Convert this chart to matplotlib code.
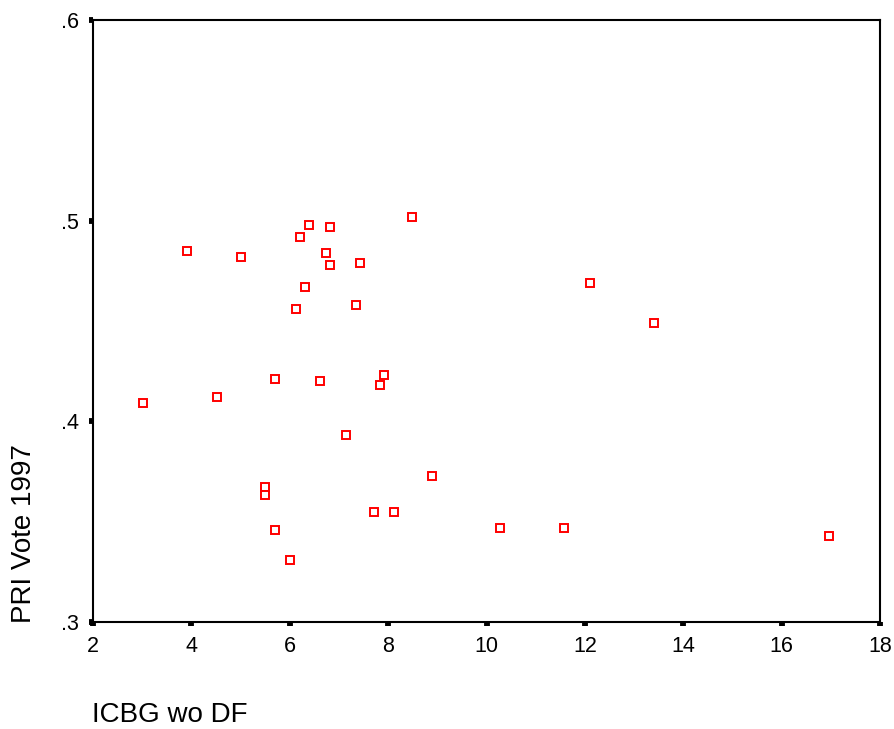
import numpy as np
import matplotlib
matplotlib.use("Agg")
import matplotlib.pyplot as plt
from matplotlib.ticker import FixedLocator, FixedFormatter

# ===== data =====
icbg = [8.48, 6.40, 6.81, 6.20, 3.91, 5.01, 6.73, 6.81, 7.42, 6.32,
        6.12, 7.34, 5.71, 6.61, 7.91, 7.83, 3.01, 4.52, 7.14, 8.89,
        5.50, 5.50, 7.71, 8.12, 5.71, 10.28, 6.00, 12.10, 13.40, 11.57,
        16.97]
pri_vote = [.502, .498, .497, .492, .485, .482, .484, .478, .479, .467,
            .456, .458, .421, .420, .423, .418, .409, .412, .393, .373,
            .3675, .3635, .355, .355, .346, .347, .331, .469, .449, .347,
            .343]

x_ticks = [2, 4, 6, 8, 10, 12, 14, 16, 18]
y_ticks = [.3, .4, .5, .6]
y_tick_labels = ['.3', '.4', '.5', '.6']

plt.rcParams['font.family'] = ['Liberation Sans', 'DejaVu Sans']

fig = plt.figure(figsize=(8.95, 7.29), dpi=100)
ax = fig.add_axes([93 / 895, 1 - 622 / 729, (880 - 93) / 895, (622 - 20) / 729])

ax.plot(icbg, pri_vote, linestyle='none', marker='s', markersize=6,
        markerfacecolor='white', markeredgecolor='#ff0000', markeredgewidth=1.4)

ax.set_xlim(2, 18)
ax.set_ylim(.3, .6)
ax.xaxis.set_major_locator(FixedLocator(x_ticks))
ax.yaxis.set_major_locator(FixedLocator(y_ticks))
ax.yaxis.set_major_formatter(FixedFormatter(y_tick_labels))

for s in ax.spines.values():
    s.set_linewidth(1.5)
ax.tick_params(direction='out', length=3, width=4.2, labelsize=15.5, pad=7)

# axis titles sit at the lower left, not centred
fig.text(24 / 895, 1 - 623 / 729, 'PRI Vote 1997', rotation=90,
         ha='center', va='bottom', fontsize=20)
fig.text(92 / 895, 1 - 722 / 729, 'ICBG wo DF', ha='left', va='baseline', fontsize=20)

fig.savefig('out.png', dpi=100)
